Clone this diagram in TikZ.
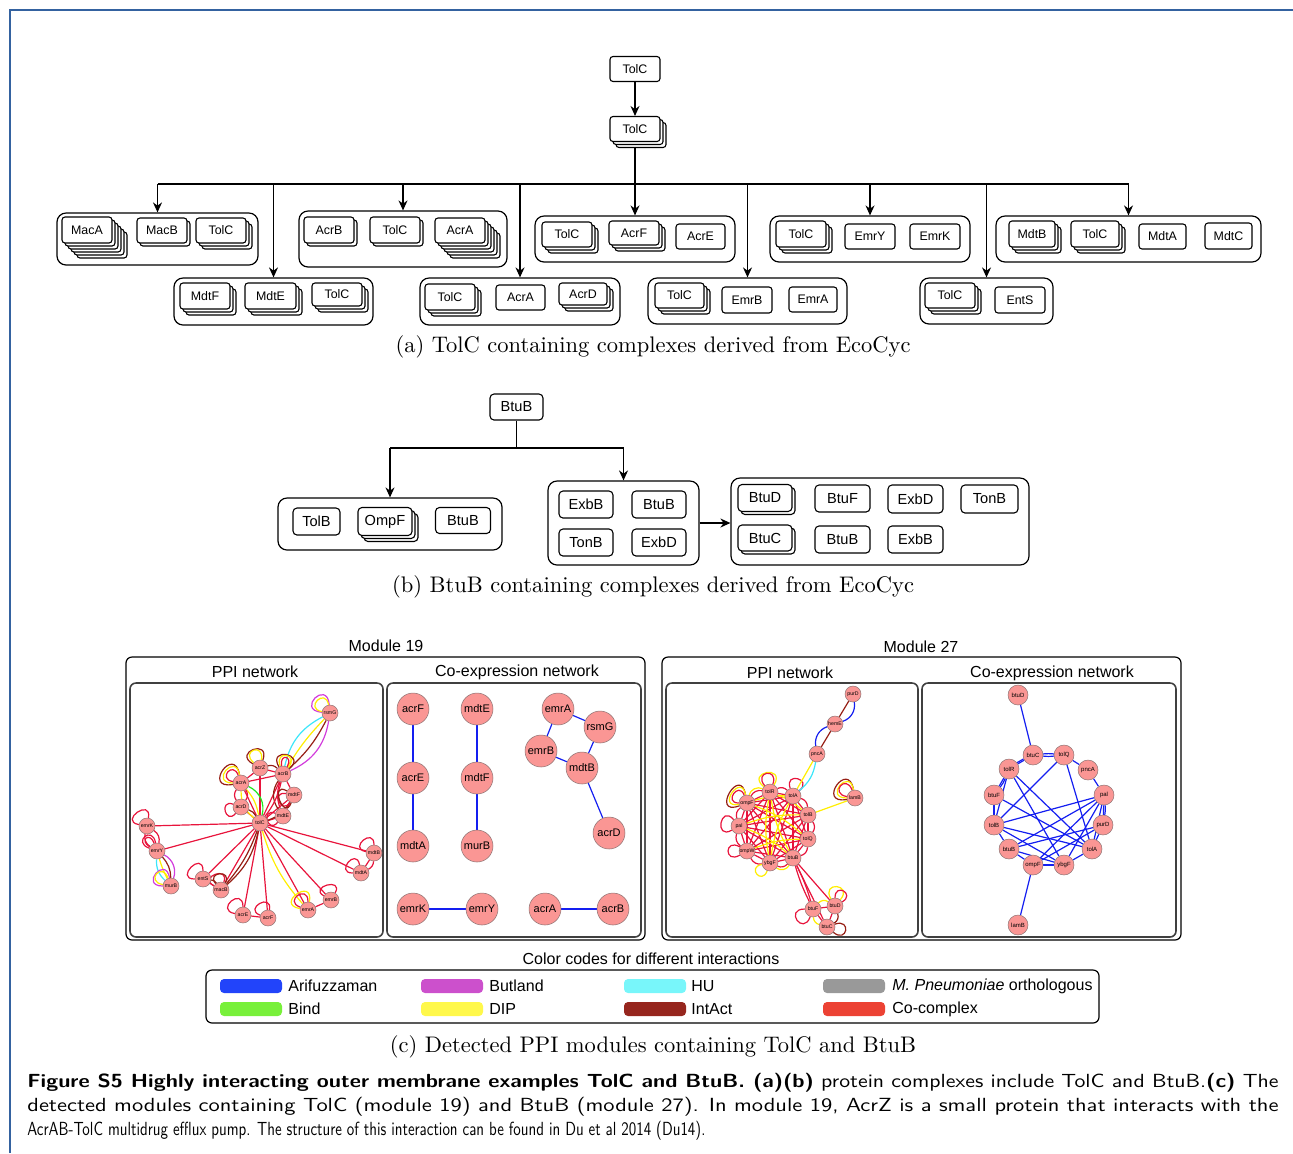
\documentclass[tikz,border=0pt]{standalone}
\usepackage{fontspec}
\usepackage{graphicx}
\newfontfamily\hv{Liberation Sans}
\usetikzlibrary{arrows.meta,backgrounds}
\definecolor{frameblue}{RGB}{52,98,160}
\definecolor{nfill}{RGB}{250,150,148}
\definecolor{ndraw}{RGB}{140,115,115}
\definecolor{cRed}{RGB}{232,20,60}
\definecolor{cDark}{RGB}{150,30,20}
\definecolor{cYel}{RGB}{255,238,0}
\definecolor{cCyan}{RGB}{60,230,250}
\definecolor{cMag}{RGB}{210,60,220}
\definecolor{cGreen}{RGB}{30,230,30}
\definecolor{cBlue}{RGB}{20,30,240}
\definecolor{lgBlue}{RGB}{34,68,250}
\definecolor{lgMag}{RGB}{204,80,204}
\definecolor{lgCyan}{RGB}{120,246,250}
\definecolor{lgGray}{RGB}{153,153,153}
\definecolor{lgGreen}{RGB}{120,240,58}
\definecolor{lgYel}{RGB}{255,248,75}
\definecolor{lgDark}{RGB}{150,38,30}
\definecolor{lgRed}{RGB}{236,66,52}
\tikzset{
 pbox/.style={draw, fill=white, rounded corners=1.5pt, inner sep=0pt, line width=0.55pt, font=\hv\fontsize{6.2}{7}\selectfont},
 cont/.style={draw, rounded corners=4.5pt, inner sep=0pt, line width=0.6pt},
 modbox/.style={draw, rounded corners=3pt, inner sep=0pt, line width=0.6pt},
 panel/.style={draw=black!75, rounded corners=3pt, inner sep=0pt, line width=0.8pt},
 legbox/.style={draw, rounded corners=3pt, inner sep=0pt, line width=0.6pt},
 ln/.style={line width=0.6pt},
 arr/.style={line width=0.6pt, -{Stealth[length=5pt,width=4.5pt]}},
 gnode/.style={circle, fill=nfill, draw=ndraw, line width=0.25pt, inner sep=0pt},
 ppi/.style={gnode, minimum size=8pt, font=\hv\fontsize{2.6}{3}\selectfont},
 coa/.style={gnode, minimum size=16pt, font=\hv\fontsize{5.5}{6}\selectfont},
 cob/.style={gnode, minimum size=10pt, font=\hv\fontsize{3}{3.5}\selectfont},
 ezero/.style={line width=0.6pt},
 er/.style={ezero, draw=cRed},
 ed/.style={ezero, draw=cDark},
 ey/.style={ezero, draw=cYel},
 ec/.style={ezero, draw=cCyan},
 em/.style={ezero, draw=cMag},
 eg/.style={ezero, draw=cGreen},
 eb/.style={ezero, draw=cBlue},
 lp/.style n args={3}{out=#1, in=#2, distance=1.3*#3},
 ttl/.style={font=\hv\fontsize{8}{9}\selectfont, inner sep=0pt},
 sw/.style={rounded corners=2pt, minimum width=31pt, minimum height=7pt, inner sep=0pt},
 lt/.style={font=\hv\fontsize{8}{9}\selectfont, inner sep=0pt, anchor=west},
}
% stacked box: name, x, y, w, h, copies, label
\newcommand\stk[7]{%
 \foreach \k in {#6,...,1}{\node[pbox,minimum width=#4*0.5pt,minimum height=#5*0.5pt] (#1-\k) at ({#2+3*\k},{-#3-3*\k}) {};}%
 \node[pbox,minimum width=#4*0.5pt,minimum height=#5*0.5pt] (#1) at (#2,-#3) {#7};}
\newcommand\sgl[6]{\node[pbox,minimum width=#4*0.5pt,minimum height=#5*0.5pt] (#1) at (#2,-#3) {#6};}
\newcommand\cbx[6][cont]{\node[#1,minimum width={(#4-#3)*0.5pt},minimum height={(#6-#5)*0.5pt}] (#2) at ({(#3+#4)/2},{-(#5+#6)/2}) {};}
\newcommand\capfont{\sffamily\fontsize{9.5}{12}\selectfont}
\begin{document}
\begin{tikzpicture}[x=0.5pt,y=0.5pt]
\useasboundingbox (0,0) rectangle (1293,-1153);
\draw[frameblue, line width=1pt] (10,-1153) -- (10,-10) -- (1293,-10);

% ---------------- (a)
\sgl{t0}{635}{69}{50}{25}{TolC}
\stk{t1}{635}{129}{50}{25}{2}{TolC}
\cbx{c1}{57}{258}{213}{265}
\cbx{c2}{299}{507}{211}{267}
\cbx{c5}{535}{735}{216}{262}
\cbx{c6}{770}{970}{216}{262}
\cbx{c7}{996}{1261}{216}{262}
\cbx{c3}{174}{373}{278}{325}
\cbx{c4}{420}{620}{278}{325}
\cbx{c8}{648}{847}{278}{324}
\cbx{c9}{920}{1053}{278}{324}
\stk{macA}{87}{230}{50}{26}{5}{MacA}
\stk{macB}{162}{230.5}{50}{25}{1}{MacB}
\stk{tolCa}{221}{230.5}{50}{25}{2}{TolC}
\stk{acrB}{329}{230}{50}{26}{1}{AcrB}
\stk{tolCb}{395}{230}{50}{26}{1}{TolC}
\stk{acrA}{460}{230.5}{50}{25}{5}{AcrA}
\stk{tolCc}{567}{234.5}{50}{25}{2}{TolC}
\stk{acrF}{634}{233}{50}{24}{2}{AcrF}
\sgl{acrE}{700.5}{236.5}{49}{25}{AcrE}
\stk{tolCd}{801}{234}{50}{26}{2}{TolC}
\sgl{emrY}{870}{236.5}{50}{25}{EmrY}
\sgl{emrK}{935}{236.5}{50}{25}{EmrK}
\stk{mdtB}{1032}{234}{46}{26}{2}{MdtB}
\stk{tolCe}{1095}{234}{48}{26}{2}{TolC}
\sgl{mdtA}{1162.5}{236.5}{47}{25}{MdtA}
\sgl{mdtC}{1228.5}{236}{47}{26}{MdtC}
\stk{mdtF}{205}{296}{50}{26}{2}{MdtF}
\stk{mdtE}{270.5}{296}{51}{26}{2}{MdtE}
\stk{tolCf}{337}{294.5}{50}{23}{2}{TolC}
\stk{tolCg}{450}{297}{50}{26}{2}{TolC}
\sgl{acrAb}{520.5}{297.5}{49}{25}{AcrA}
\stk{acrD}{583}{294}{48}{22}{2}{AcrD}
\stk{tolCh}{679.5}{295.5}{49}{25}{2}{TolC}
\sgl{emrB}{747}{300}{50}{26}{EmrB}
\sgl{emrA}{813}{299.5}{48}{25}{EmrA}
\stk{tolCi}{950}{295.5}{50}{25}{2}{TolC}
\sgl{entS}{1020}{300}{50}{26}{EntS}
\coordinate (bus) at (635,-184);
\begin{scope}[on background layer]
 \draw[arr] (t0) -- (t1);
 \draw[ln] (t1.south) -- (bus);
 \draw[ln] (bus -| c1.north) -- (bus -| c7.north);
 \foreach \c in {c1,c2,c3,c4,c5,c6,c7,c8,c9} \draw[arr] (bus -| \c.north) -- (\c.north);
\end{scope}
\node[inner sep=0pt] (capa) at (653,-347) {\resizebox{257.5pt}{!}{(a) TolC containing complexes derived from EcoCyc}};

% ---------------- (b)
\begin{scope}[pbox/.append style={font=\hv\fontsize{7.3}{8}\selectfont, rounded corners=2pt}]
\sgl{btop}{516.5}{407}{53}{26}{BtuB}
\cbx{bL}{278}{502}{498}{550}
\cbx{bM}{548}{699}{481}{565}
\cbx{bR}{731}{1029}{478}{565}
\sgl{tolB}{316.5}{521.5}{47}{27}{TolB}
\stk{ompF}{385}{521.5}{54}{28}{2}{OmpF}
\sgl{btuBa}{463}{520.5}{55}{26}{BtuB}
\sgl{exbBa}{586}{504.5}{54}{27}{ExbB}
\sgl{btuBb}{659}{504.5}{54}{27}{BtuB}
\sgl{tonBa}{586}{542.5}{54}{27}{TonB}
\sgl{exbDa}{659}{542.5}{54}{27}{ExbD}
\stk{btuD}{765}{498}{54}{27}{1}{BtuD}
\sgl{btuF}{842.5}{498.5}{55}{27}{BtuF}
\sgl{exbDb}{915.5}{499}{55}{28}{ExbD}
\sgl{tonBb}{989.5}{499}{57}{28}{TonB}
\stk{btuC}{765}{538}{54}{26}{1}{BtuC}
\sgl{btuBc}{842.5}{539.5}{55}{27}{BtuB}
\sgl{exbBb}{915.5}{539.5}{55}{27}{ExbB}
\end{scope}
\coordinate (bj) at (516.5,-448);
\begin{scope}[on background layer]
 \draw[ln] (btop.south) -- (bj);
 \draw[ln] (bj -| bL.north) -- (bj -| bM.north);
 \draw[arr] (bj -| bL.north) -- (bL.north);
 \draw[arr] (bj -| bM.north) -- (bM.north);
 \draw[arr, line width=1.1pt] (bM.east) -- (bM.east -| bR.west);
\end{scope}
\node[inner sep=0pt] (capb) at (653,-587) {\resizebox{261pt}{!}{(b) BtuB containing complexes derived from EcoCyc}};

% ---------------- (c)
\node[ttl] (mt19) at (386,-646) {Module 19};
\node[ttl] (mt27) at (921,-647) {Module 27};
\cbx[modbox]{m19}{126}{645}{657}{940}
\cbx[modbox]{m27}{662}{1181}{657}{940}
\node[ttl] (st1) at (255,-672) {PPI network};
\node[ttl] (st2) at (517,-672) {Co-expression network};
\node[ttl] (st3) at (790,-673) {PPI network};
\node[ttl] (st4) at (1052,-673) {Co-expression network};
\cbx[panel]{p1}{130}{383}{683}{937}
\cbx[panel]{p2}{387}{641}{683}{937}
\cbx[panel]{p3}{666}{918}{683}{937}
\cbx[panel]{p4}{922}{1176}{683}{937}

% PPI network, module 19
\foreach \n/\x/\y in {rsmG/330/713, acrZ/260/768, acrB/283/774, acrA/241/783, mdtF/294/795, acrD/241/807, mdtE/283/816, tolC/260/823, emrK/147/826, emrY/157/851, murB/171/886, entS/203/879, macB/221/890, acrE/243/915, acrF/268/918, emrA/308/910, emrB/331/900, mdtA/361/873, mdtB/374/853}
 \node[ppi] (n1\n) at (\x,-\y) {\n};
% Co-expression, module 19
\foreach \n/\x/\y in {acrF/413/709, mdtE/477/709, acrE/413/778, mdtF/477/778, mdtA/413/846, murB/477/846, emrA/558/709, rsmG/600/727, emrB/541/751, mdtB/582/768, acrD/609/833, emrK/413/909, emrY/482/909, acrA/545/909, acrB/613/909}
 \node[coa] (n2\n) at (\x,-\y) {\n};
% PPI network, module 27
\foreach \n/\x/\y in {purD/853/694, hemE/835/724, pncA/817/754, tolR/770/792, tolA/793/796, ompF/747/803, lamB/855/798, tolB/808/815, pal/739/826, tolQ/808/839, ompW/747/851, btuB/793/858, ybgF/770/863, btuF/813/909, btuD/835/906, btuC/827/927}
 \node[ppi] (n3\n) at (\x,-\y) {\n};
% Co-expression, module 27
\foreach \n/\x/\y in {btuD/1018/695, btuC/1033/755, tolQ/1064/755, tolR/1009/769, pncA/1088/770, btuF/994/795, pal/1104/795, tolB/994/825, purD/1103/825, btuB/1009/849, tolA/1092/849, ompF/1033/865, ybgF/1064/865, lamB/1018/925}
 \node[cob] (n4\n) at (\x,-\y) {\n};

\begin{scope}[on background layer]
 % --- PPI 19
 \foreach \n in {emrK,emrY,entS,macB,acrE,acrF,emrA,emrB,mdtA,mdtB,acrD,acrA,mdtE,mdtF,acrB,acrZ} \draw[er] (n1tolC) -- (n1\n);
 \draw[eg] (n1acrA) to[bend left=40] (n1tolC);
 \draw[ey] (n1acrA) to[bend right=25] (n1tolC);
 \draw[ey] (n1acrA) to[bend left=15] (n1tolC);
 \draw[ed] (n1acrD) to[bend left=20] (n1tolC);
 \draw[er] (n1acrA) to[bend right=35] (n1acrD);
 \draw[er] (n1acrA) to[bend left=35] (n1acrD);
 \draw[er] (n1acrA) -- (n1acrB);
 \draw[er] (n1acrA) -- (n1acrZ);
 \draw[er] (n1acrZ) -- (n1acrB);
 \draw[ed] (n1acrZ) to[bend left=30] (n1acrB);
 \draw[er] (n1acrB) -- (n1mdtF);
 \draw[er] (n1acrB) to[bend right=20] (n1mdtE);
 \draw[ed] (n1acrB) to[bend right=35] (n1mdtE);
 \draw[er] (n1mdtF) -- (n1mdtE);
 \draw[er] (n1acrB) to[bend left=12] (n1tolC);
 \draw[ed] (n1mdtF) to[bend left=20] (n1tolC);
 \draw[ec] (n1acrB) to[bend left=25] (n1rsmG);
 \draw[ey] (n1acrB) to[bend left=6] (n1rsmG);
 \draw[ed] (n1acrB) to[bend right=10] (n1rsmG);
 \draw[em] (n1acrB) to[bend right=28] (n1rsmG);
 \draw[er] (n1emrK) to[bend right=35] (n1emrY);
 \draw[er] (n1emrK) to[bend left=35] (n1emrY);
 \draw[ec] (n1emrY) to[bend right=25] (n1murB);
 \draw[ey] (n1emrY) to[bend right=5] (n1murB);
 \draw[ed] (n1emrY) to[bend left=20] (n1murB);
 \draw[em] (n1emrY) to[bend left=40] (n1murB);
 \draw[er] (n1entS) -- (n1macB);
 \draw[ed] (n1entS) to[bend left=25] (n1macB);
 \draw[ed] (n1tolC) to[bend left=10] (n1macB);
 \draw[ed] (n1tolC) to[bend left=18] (n1macB);
 \draw[er] (n1acrE) -- (n1acrF);
 \draw[ey] (n1tolC) to[bend right=12] (n1emrA);
 \draw[er] (n1emrA) -- (n1emrB);
 \draw[er] (n1mdtA) -- (n1mdtB);
 \draw[er] (n1mdtA) to[bend right=30] (n1mdtB);
 \draw[em] (n1rsmG) to[lp={175}{95}{10pt}] (n1rsmG);
 \draw[ey] (n1rsmG) to[lp={170}{100}{7pt}] (n1rsmG);
 \draw[ed] (n1acrA) to[lp={100}{190}{12pt}] (n1acrA);
 \draw[ey] (n1acrA) to[lp={100}{180}{9pt}] (n1acrA);
 \draw[er] (n1acrA) to[lp={110}{170}{6pt}] (n1acrA);
 \draw[ed] (n1acrZ) to[lp={150}{70}{9pt}] (n1acrZ);
 \draw[ey] (n1acrZ) to[lp={140}{80}{7pt}] (n1acrZ);
 \draw[ed] (n1acrB) to[lp={120}{40}{9pt}] (n1acrB);
 \draw[ey] (n1acrB) to[lp={110}{50}{7pt}] (n1acrB);
 \draw[er] (n1acrB) to[lp={100}{60}{5pt}] (n1acrB);
 \draw[er] (n1acrD) to[lp={160}{230}{6pt}] (n1acrD);
 \draw[er] (n1mdtF) to[lp={170}{240}{6pt}] (n1mdtF);
 \draw[ed] (n1mdtF) to[lp={150}{250}{8pt}] (n1mdtF);
 \draw[er] (n1mdtE) to[lp={160}{230}{6pt}] (n1mdtE);
 \draw[er] (n1emrK) to[lp={170}{80}{8pt}] (n1emrK);
 \draw[er] (n1emrY) to[lp={160}{100}{7pt}] (n1emrY);
 \draw[er] (n1emrY) to[lp={150}{110}{5pt}] (n1emrY);
 \draw[em] (n1murB) to[lp={180}{100}{9pt}] (n1murB);
 \draw[ey] (n1murB) to[lp={170}{110}{7pt}] (n1murB);
 \draw[er] (n1entS) to[lp={180}{90}{8pt}] (n1entS);
 \draw[er] (n1macB) to[lp={150}{70}{7pt}] (n1macB);
 \draw[ed] (n1macB) to[lp={130}{60}{6pt}] (n1macB);
 \draw[er] (n1acrE) to[lp={170}{90}{8pt}] (n1acrE);
 \draw[er] (n1acrF) to[lp={160}{80}{7pt}] (n1acrF);
 \draw[ey] (n1emrA) to[lp={170}{80}{10pt}] (n1emrA);
 \draw[er] (n1emrA) to[lp={160}{90}{7pt}] (n1emrA);
 \draw[er] (n1emrB) to[lp={150}{60}{7pt}] (n1emrB);
 \draw[er] (n1mdtA) to[lp={180}{100}{7pt}] (n1mdtA);
 \draw[er] (n1mdtB) to[lp={170}{90}{7pt}] (n1mdtB);
 % --- Co-expression 19
 \foreach \a/\b in {acrF/acrE, acrE/mdtA, mdtE/mdtF, mdtF/murB, emrA/rsmG, emrA/emrB, rsmG/mdtB, emrB/mdtB, mdtB/acrD, emrK/emrY, acrA/acrB}
  \draw[eb, line width=0.6pt] (n2\a) -- (n2\b);
 % --- PPI 27
 \foreach \a/\i in {tolR/1,tolA/2,ompF/3,tolB/4,pal/5,tolQ/6,ompW/7,btuB/8,ybgF/9}{
  \foreach \b/\j in {tolR/1,tolA/2,ompF/3,tolB/4,pal/5,tolQ/6,ompW/7,btuB/8,ybgF/9}{
   \ifnum\j>\i\relax \draw[er] (n3\a) -- (n3\b);\fi}}
 \foreach \a/\b in {tolR/tolA, tolA/tolB, tolB/tolQ, tolQ/btuB, btuB/ybgF, ybgF/ompW, ompW/pal, pal/ompF, ompF/tolR}
  \draw[er] (n3\a) to[bend left=35] (n3\b);
 \foreach \a/\b in {tolR/tolB, ompF/tolA, pal/tolB, ybgF/tolA, ompW/tolQ, btuB/tolR, ompF/tolQ, pal/btuB, ybgF/tolR}
  \draw[ey] (n3\a) to[bend left=10] (n3\b);
 \draw[ey] (n3ompF) to[bend left=50] (n3tolR);
 \draw[ey] (n3btuB) to[bend left=50] (n3ybgF);
 \draw[ed] (n3ompF) to[lp={100}{200}{12pt}] (n3ompF);
 \draw[ey] (n3ompF) to[lp={100}{190}{9pt}] (n3ompF);
 \draw[er] (n3ompF) to[lp={110}{180}{6pt}] (n3ompF);
 \draw[ey] (n3tolR) to[lp={140}{60}{9pt}] (n3tolR);
 \draw[er] (n3tolR) to[lp={130}{70}{7pt}] (n3tolR);
 \draw[er] (n3tolA) to[lp={110}{40}{7pt}] (n3tolA);
 \draw[er] (n3pal) to[lp={210}{130}{8pt}] (n3pal);
 \draw[er] (n3ompW) to[lp={210}{150}{7pt}] (n3ompW);
 \draw[ey] (n3ybgF) to[lp={250}{190}{6pt}] (n3ybgF);
 \draw[ey] (n3pncA) -- (n3tolA);
 \draw[ec] (n3pncA) to[bend left=20] (n3tolA);
 \draw[ed] (n3hemE) -- (n3pncA);
 \draw[eb] (n3hemE) to[bend right=40] (n3pncA);
 \draw[ed] (n3hemE) -- (n3purD);
 \draw[eb] (n3hemE) to[bend right=40] (n3purD);
 \draw[ey] (n3lamB) -- (n3tolB);
 \draw[ed] (n3lamB) to[lp={100}{190}{12pt}] (n3lamB);
 \draw[ey] (n3lamB) to[lp={100}{180}{9pt}] (n3lamB);
 \draw[er] (n3lamB) to[lp={110}{170}{7pt}] (n3lamB);
 \draw[er] (n3btuB) to[bend left=5] (n3btuF);
 \draw[er] (n3btuB) to[bend right=5] (n3btuF);
 \draw[er] (n3btuB) -- (n3btuD);
 \draw[er] (n3btuB) -- (n3btuC);
 \draw[er] (n3btuF) -- (n3btuD);
 \draw[ey] (n3btuF) to[bend left=40] (n3btuD);
 \draw[er] (n3btuF) -- (n3btuC);
 \draw[ey] (n3btuF) to[bend right=35] (n3btuC);
 \draw[er] (n3btuD) -- (n3btuC);
 \draw[ed] (n3btuD) to[bend left=40] (n3btuC);
 \draw[er] (n3btuF) to[lp={180}{250}{8pt}] (n3btuF);
 \draw[ey] (n3btuD) to[lp={120}{50}{8pt}] (n3btuD);
 \draw[er] (n3btuD) to[lp={90}{30}{6pt}] (n3btuD);
 \draw[ed] (n3btuC) to[lp={320}{20}{7pt}] (n3btuC);
 % --- Co-expression 27
 \foreach \a/\b in {btuD/btuC, btuC/tolR, tolQ/pncA, pncA/pal, tolQ/tolB, tolQ/tolA, tolR/btuF, tolR/tolB, tolR/ybgF, tolR/tolA, btuF/tolB, btuF/tolA, tolB/btuB, tolB/pal, tolB/tolA, tolB/ybgF, btuB/pal, btuB/purD, btuB/ompF, btuB/ybgF, ompF/pal, ompF/ybgF, ompF/lamB, ybgF/pal, ybgF/tolA, tolA/pal, tolA/purD, ompF/purD, pal/purD}
  \draw[eb] (n4\a) -- (n4\b);
 \draw[eb] (n4btuC) to[bend left=6] (n4tolQ);
 \draw[eb] (n4btuC) to[bend right=6] (n4tolQ);
 \draw[eb] (n4tolR) to[bend left=8] (n4btuC);
 \draw[eb] (n4tolR) to[bend left=8] (n4btuF);
 \draw[eb] (n4pal) to[bend left=8] (n4purD);
\end{scope}

% legend
\node[ttl] (lgt) at (651,-959) {Color codes for different interactions};
\cbx[legbox]{lg}{206}{1099}{970}{1023}
\node[sw, fill=lgBlue] (sw1) at (251,-986) {};
\node[lt] (l1) at (288,-986) {Arifuzzaman};
\node[sw, fill=lgGreen] (sw2) at (251,-1009) {};
\node[lt] (l2) at (288,-1009) {Bind};
\node[sw, fill=lgMag] (sw3) at (452,-986) {};
\node[lt] (l3) at (489,-986) {Butland};
\node[sw, fill=lgYel] (sw4) at (452,-1009) {};
\node[lt] (l4) at (489,-1009) {DIP};
\node[sw, fill=lgCyan] (sw5) at (655,-986) {};
\node[lt] (l5) at (691,-986) {HU};
\node[sw, fill=lgDark] (sw6) at (655,-1009) {};
\node[lt] (l6) at (691,-1009) {IntAct};
\node[sw, fill=lgGray] (sw7) at (854,-986) {};
\node[lt] (l7) at (892,-986) {\itshape M. Pneumoniae\upshape{} orthologous};
\node[sw, fill=lgRed] (sw8) at (854,-1009) {};
\node[lt] (l8) at (892,-1009) {Co-complex};

\node[inner sep=0pt] (capc) at (653,-1047) {\resizebox{263pt}{!}{(c) Detected PPI modules containing TolC and BtuB}};

% figure caption
\node[inner sep=0pt, anchor=base west] (fc1) at (27,-1087) {\resizebox{625.5pt}{\height}{\capfont\textbf{Figure S5 Highly interacting outer membrane examples TolC and BtuB. (a)(b)} protein complexes include TolC and BtuB.\textbf{(c)} The}};
\node[inner sep=0pt, anchor=base west] (fc2) at (27,-1111) {\resizebox{625.5pt}{\height}{\capfont detected modules containing TolC (module 19) and BtuB (module 27). In module 19, AcrZ is a small protein that interacts with the}};
\node[inner sep=0pt, anchor=base west] (fc3) at (27,-1135) {\resizebox{339pt}{\height}{\capfont AcrAB-TolC multidrug efflux pump. The structure of this interaction can be found in Du et al 2014 (Du14).}};
\end{tikzpicture}
\end{document}
